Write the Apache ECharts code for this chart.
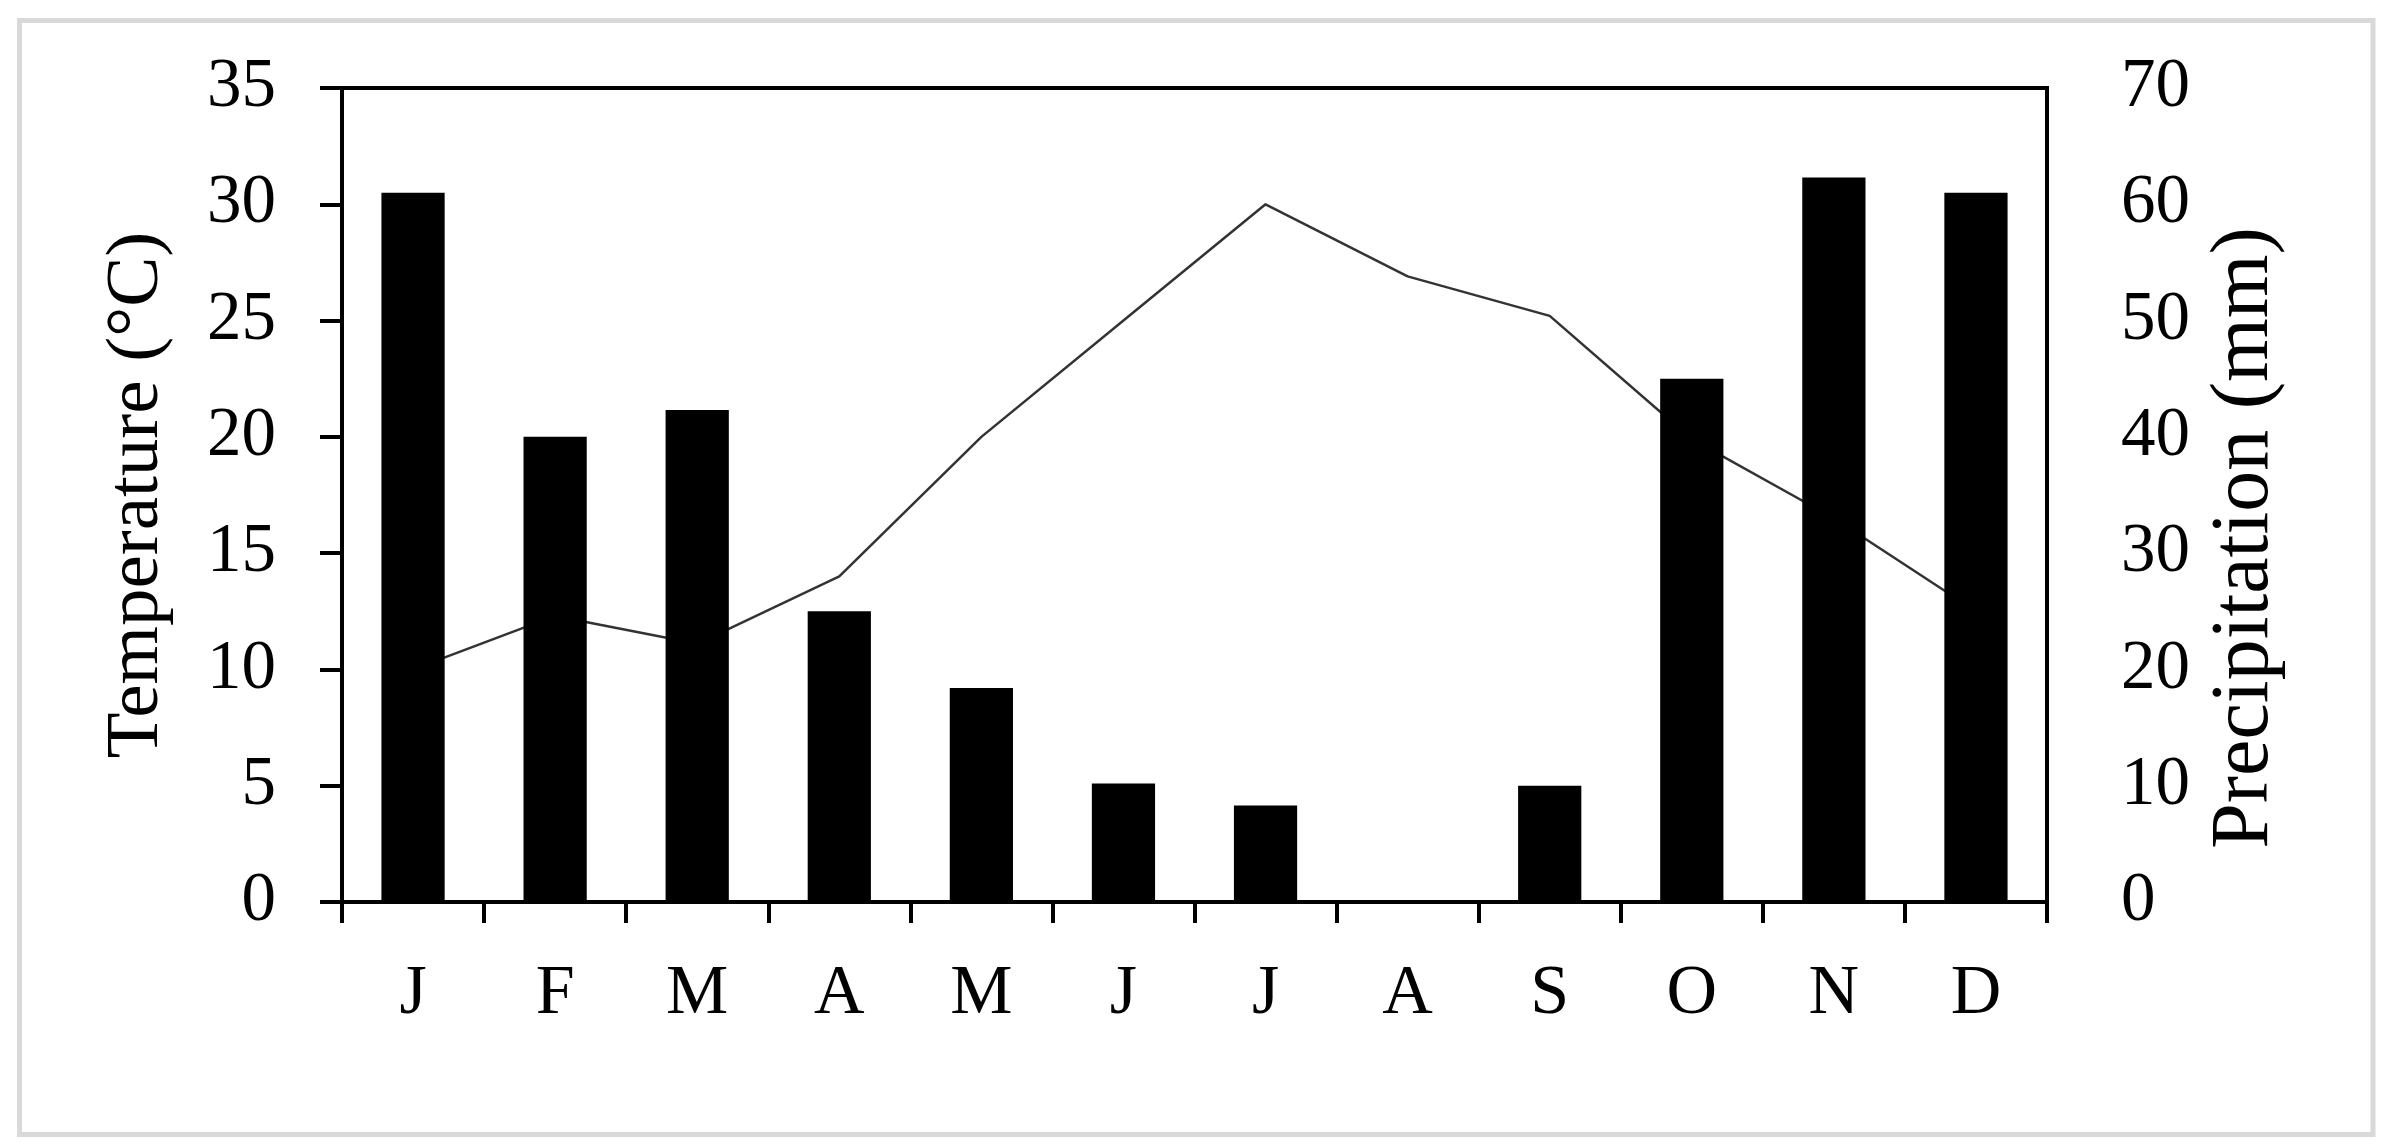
<!DOCTYPE html>
<html>
<head>
<meta charset="utf-8">
<title>Temperature and precipitation</title>
<script src="https://cdn.jsdelivr.net/npm/echarts@6/dist/echarts.min.js"></script>
<style>
  html, body { margin: 0; padding: 0; background: #fff; }
  #chart { width: 2391px; height: 1148px; }
</style>
</head>
<body>
<div id="chart"></div>
<script>
// months
const months = ['J', 'F', 'M', 'A', 'M', 'J', 'J', 'A', 'S', 'O', 'N', 'D']
// mean temperature (°C), left axis
const temperature = [10.0, 12.3, 11.1, 14.0, 20.0, 25.0, 30.0, 26.9, 25.2, 19.9, 16.5, 12.5]
// precipitation (mm), right axis
const precipitation = [61, 40, 42.3, 25, 18.4, 10.2, 8.3, 0, 10, 45, 62.3, 61]

const FONT = 'Liberation Serif'

const chart = echarts.init(document.getElementById('chart'))

chart.setOption({
  backgroundColor: '#fff',
  animation: false,
  textStyle: { fontFamily: FONT, color: '#000' },
  // light grey outer frame
  graphic: [{
    type: 'rect',
    shape: { x: 19.5, y: 20.5, width: 2353.5, height: 1114 },
    style: { fill: 'none', stroke: '#d9d9d9', lineWidth: 5 },
    silent: true
  }],
  grid: {
    left: 342, right: 344, top: 88, bottom: 246,
    show: true, borderColor: '#000', borderWidth: 4, backgroundColor: 'transparent'
  },
  xAxis: {
    type: 'category',
    data: months,
    axisLine: { lineStyle: { color: '#000', width: 4 } },
    axisTick: { show: true, length: 21, lineStyle: { color: '#000', width: 4 } },
    axisLabel: { margin: 58, fontSize: 70, fontFamily: FONT, color: '#000' }
  },
  yAxis: [
    {
      type: 'value',
      min: 0, max: 35, interval: 5,
      name: 'Temperature (°C)',
      nameLocation: 'middle',
      nameRotate: 90,
      nameGap: 167,
      nameTextStyle: { fontSize: 75, fontFamily: FONT, color: '#000' },
      axisLine: { show: true, lineStyle: { color: '#000', width: 4 } },
      axisTick: { show: true, length: 22, lineStyle: { color: '#000', width: 4 } },
      axisLabel: { margin: 66, fontSize: 69, fontFamily: FONT, color: '#000' },
      splitLine: { show: false }
    },
    {
      type: 'value',
      min: 0, max: 70, interval: 10,
      position: 'right',
      name: 'Precipitation (mm)',
      nameLocation: 'middle',
      nameRotate: 90,
      nameGap: 157,
      nameTextStyle: { fontSize: 82, fontFamily: FONT, color: '#000', padding: [0, 86, 0, 0] },
      axisLine: { show: true, lineStyle: { color: '#000', width: 4 } },
      axisTick: { show: false },
      axisLabel: { margin: 74, fontSize: 69, fontFamily: FONT, color: '#000', align: 'left' },
      splitLine: { show: false }
    }
  ],
  series: [
    {
      name: 'Temperature',
      type: 'line',
      yAxisIndex: 0,
      data: temperature,
      symbol: 'none',
      lineStyle: { color: '#333', width: 2.5 },
      z: 1
    },
    {
      name: 'Precipitation',
      type: 'bar',
      yAxisIndex: 1,
      data: precipitation,
      barWidth: '44.5%',
      itemStyle: { color: '#000' },
      z: 2
    }
  ]
})
</script>
</body>
</html>
